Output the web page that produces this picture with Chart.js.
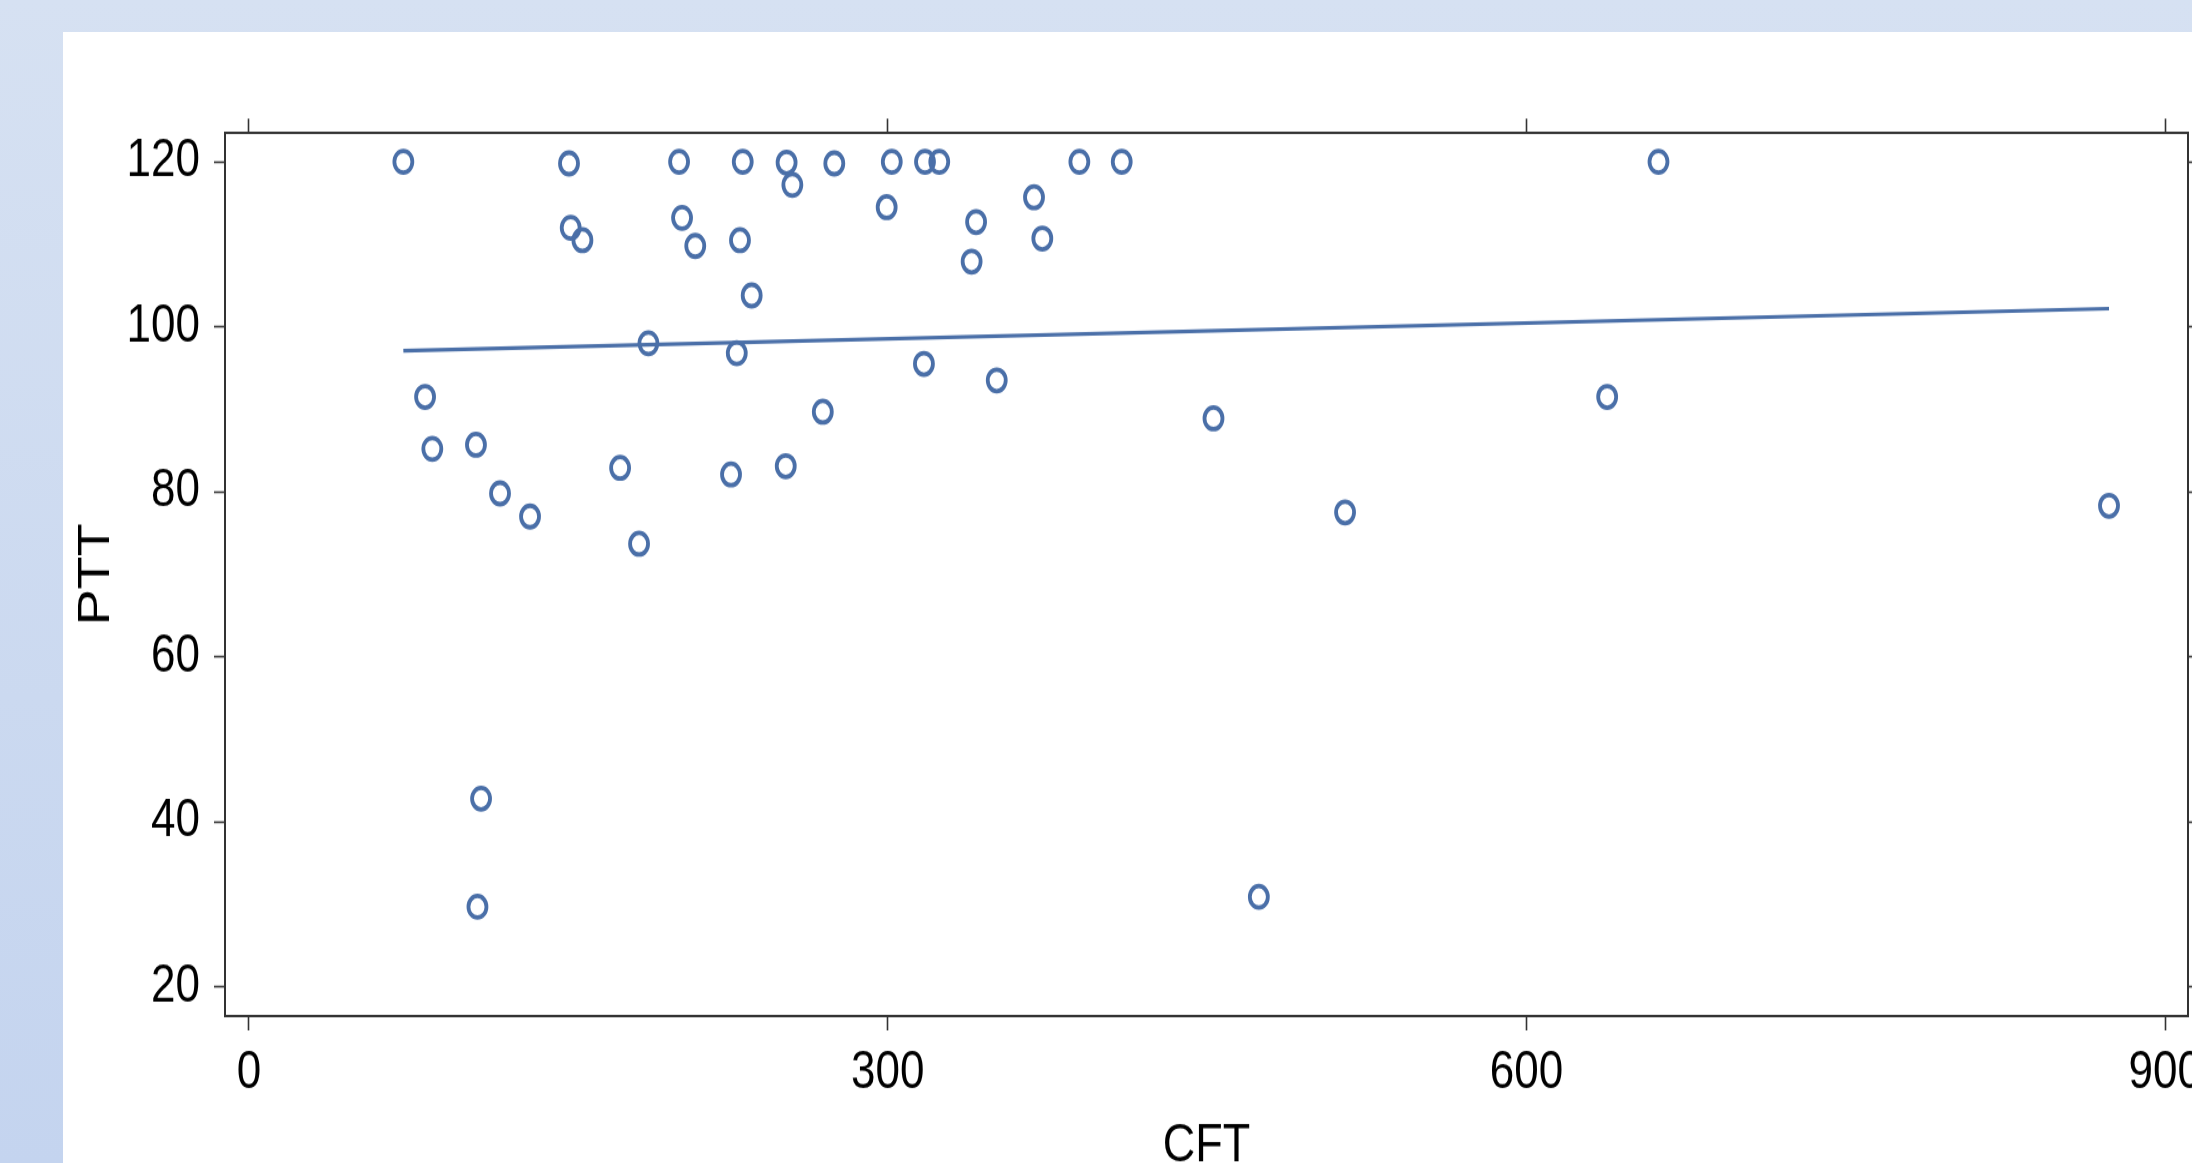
<!DOCTYPE html>
<html>
<head>
<meta charset="utf-8">
<script src="https://cdn.jsdelivr.net/npm/chart.js@4.4.1/dist/chart.umd.min.js"></script>
<style>
  html, body { margin: 0; padding: 0; }
  body {
    width: 2192px; height: 1163px; overflow: hidden; position: relative;
    background: linear-gradient(180deg, #d6e1f2 0%, #cbd9f0 60%, #c4d4ef 100%);
  }
  #panel { position: absolute; left: 63px; top: 32px; right: 0; bottom: 0; background: #ffffff; overflow: hidden; }
  #c { position: absolute; left: 0; top: 0; transform: scaleY(1.2); transform-origin: 0 0; }
</style>
</head>
<body>
<div id="panel"><canvas id="c" width="2129" height="960"></canvas></div>
<script>
// ---- data ----
const cft = [72.5, 82.7, 86.1, 106.6, 109, 107.3, 117.9, 132, 150.3, 151.1, 156.6, 174.3, 183.2, 187.6, 202, 203.4, 209.6, 226.4, 229.1, 230.6, 231.9, 236.1, 252.1, 252.5, 255.2, 269.5, 274.9, 299.5, 301.9, 317.0, 317.5, 324.2, 339.4, 341.5, 351.2, 368.7, 372.6, 390, 409.9, 453, 474.3, 514.8, 637.9, 662, 873.6];
const ptt = [120, 91.5, 85.2, 85.7, 42.8, 29.7, 79.8, 77.0, 119.8, 112.0, 110.5, 82.9, 73.7, 98.0, 120, 113.2, 109.8, 82.1, 96.8, 110.5, 120, 103.8, 83.1, 119.9, 117.2, 89.7, 119.8, 114.5, 120, 95.5, 120, 120, 107.9, 112.7, 93.5, 115.7, 110.7, 120, 120, 88.9, 30.9, 77.5, 91.5, 120, 78.3];
const fitX = [72.5, 873.6];
const fitY = [97.08, 102.2];
const xTicks = [0, 300, 600, 900];
const yTicks = [20, 40, 60, 80, 100, 120];
const xTitle = 'CFT';
const yTitle = 'PTT';

const BLUE = '#4a6fa8';
const AXIS = '#333333';
const FONT = '"Liberation Sans", Arial, Helvetica, sans-serif';

const scatterPts = cft.map((x, i) => ({ x: x, y: ptt[i] }));
const fitPts = fitX.map((x, i) => ({ x: x, y: fitY[i] }));

function setTicks(arr) { return function (s) { s.ticks = arr.map(v => ({ value: v })); }; }
function fixW(w) { return function (s) { s.width = w; s.paddingTop = 0; s.paddingBottom = 0; s.paddingLeft = 0; s.paddingRight = 0; }; }
function fixH(h) { return function (s) { s.height = h; s.paddingTop = 0; s.paddingBottom = 0; s.paddingLeft = 0; s.paddingRight = 0; }; }

const XMIN = -11.27, XMAX = 910.7, YMIN = 16.45, YMAX = 123.48;

const gridCommon = (len) => ({ display: true, drawOnChartArea: false, drawTicks: true, tickLength: len, tickColor: AXIS, tickWidth: 1.6 });
const borderCommon = { display: true, color: AXIS, width: 2 };

new Chart(document.getElementById('c'), {
  data: {
    datasets: [
      {
        type: 'scatter', label: 'PTT', data: scatterPts,
        pointStyle: 'circle', pointRadius: 9, pointHoverRadius: 9,
        pointBorderWidth: 3.8, pointBorderColor: BLUE, pointBackgroundColor: 'rgba(0,0,0,0)',
        showLine: false, order: 2
      },
      {
        type: 'line', label: 'Fit', data: fitPts,
        borderColor: BLUE, borderWidth: 3.2, pointRadius: 0, fill: false, tension: 0, order: 1
      }
    ]
  },
  options: {
    responsive: false, animation: false, devicePixelRatio: 1,
    layout: { padding: 0, autoPadding: false },
    plugins: { legend: { display: false }, tooltip: { enabled: false } },
    scales: {
      x: {
        type: 'linear', position: 'bottom', min: XMIN, max: XMAX,
        afterBuildTicks: setTicks(xTicks), afterFit: fixH(140),
        grid: gridCommon(12), border: borderCommon,
        ticks: { color: '#000', font: { family: FONT, size: 44, lineHeight: 1 }, padding: 14, maxRotation: 0, autoSkip: false },
        title: { display: true, text: xTitle, color: '#000', font: { family: FONT, size: 45, lineHeight: 1 }, padding: { top: 0, bottom: 9 } }
      },
      x2: {
        type: 'linear', position: 'top', min: XMIN, max: XMAX,
        afterBuildTicks: setTicks(xTicks), afterFit: fixH(84.2),
        grid: gridCommon(12), border: borderCommon,
        ticks: { display: false }
      },
      y: {
        type: 'linear', position: 'left', min: YMIN, max: YMAX,
        afterBuildTicks: setTicks(yTicks), afterFit: fixW(162),
        grid: gridCommon(11), border: borderCommon,
        ticks: { color: '#000', font: { family: FONT, size: 44, lineHeight: 1 }, padding: 14, autoSkip: false },
        title: { display: true, text: yTitle, color: '#000', font: { family: FONT, size: 45, lineHeight: 1 }, padding: { top: 11, bottom: 0 } }
      },
      y2: {
        type: 'linear', position: 'right', min: YMIN, max: YMAX,
        afterBuildTicks: setTicks(yTicks), afterFit: fixW(4),
        grid: gridCommon(11), border: borderCommon,
        ticks: { display: false }
      }
    }
  }
});
</script>
</body>
</html>
